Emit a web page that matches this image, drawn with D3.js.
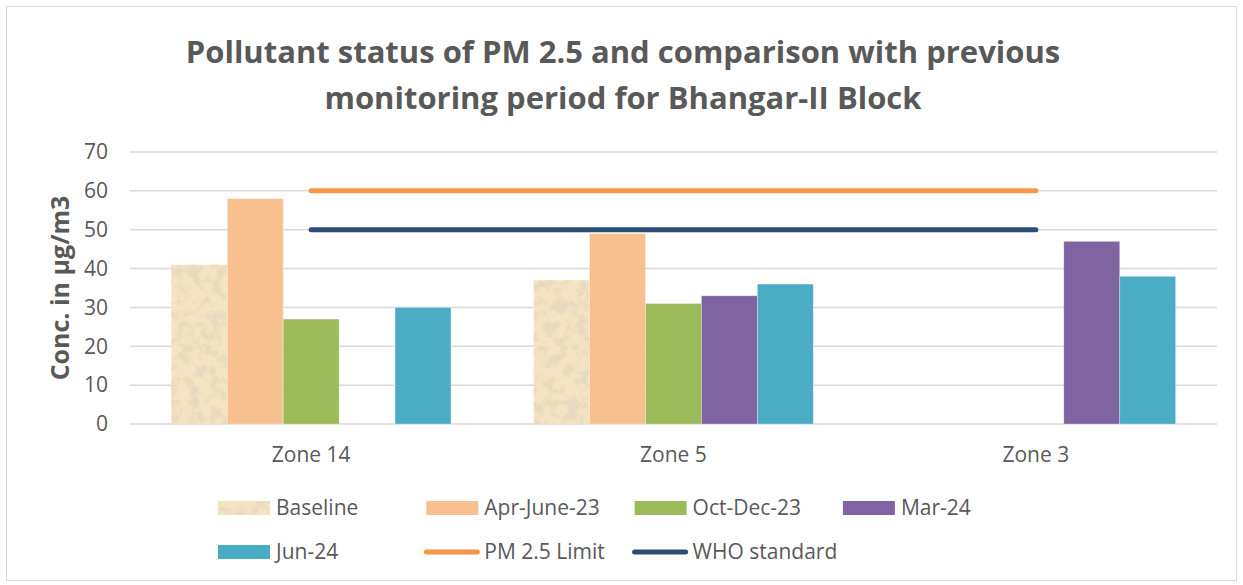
<!DOCTYPE html>
<html>
<head>
<meta charset="utf-8">
<script src="https://cdn.jsdelivr.net/npm/d3@7"></script>
<style>
  body { margin: 0; background: #fff; }
  text { font-family: "Open Sans", Lato, sans-serif; fill: #595959; }
</style>
</head>
<body>
<svg id="chart" width="1243" height="585"></svg>
<script>
// data
var zones = ["Zone 14", "Zone 5", "Zone 3"];
var seriesNames = ["Baseline", "Apr-June-23", "Oct-Dec-23", "Mar-24", "Jun-24"];
var baseline = [41, 37, null];
var aprJune23 = [58, 49, null];
var octDec23 = [27, 31, null];
var mar24 = [null, 33, 47];
var jun24 = [30, 36, 38];
var pmLimit = [60, 60, 60];
var whoStandard = [50, 50, 50];
var yTicks = [0, 10, 20, 30, 40, 50, 60, 70];

var colors = {
  "Baseline": "#f4e4c2",
  "Apr-June-23": "#f9c08f",
  "Oct-Dec-23": "#9bbb59",
  "Mar-24": "#8064a2",
  "Jun-24": "#4bacc6"
};

window.onload = function(){
  var svg = d3.select("#chart");
  var allSeries = [baseline, aprJune23, octDec23, mar24, jun24];

  // papyrus-like texture for baseline bars
  var defs = svg.append("defs");
  var f = defs.append("filter").attr("id", "tex").attr("x", 0).attr("y", 0).attr("width", 1).attr("height", 1);
  f.append("feTurbulence").attr("type", "fractalNoise").attr("baseFrequency", 0.09).attr("numOctaves", 4).attr("seed", 7).attr("result", "n");
  f.append("feColorMatrix").attr("in", "n").attr("type", "matrix")
    .attr("values", "0 0 0 0 0.80  0 0 0 0 0.70  0 0 0 0 0.52  4.5 0 0 0 -2.0")
    .attr("result", "c");
  f.append("feComposite").attr("in", "c").attr("in2", "SourceGraphic").attr("operator", "in").attr("result", "m");
  var mg = f.append("feMerge");
  mg.append("feMergeNode").attr("in", "SourceGraphic");
  mg.append("feMergeNode").attr("in", "m");

  // outer border
  svg.append("rect").attr("x", 6.5).attr("y", 6.5).attr("width", 1230).attr("height", 574)
    .attr("fill", "#fff").attr("stroke", "#d9d9d9");

  // title
  var title = svg.append("text").attr("text-anchor", "middle")
    .style("font-size", "31px").style("font-weight", "bold");
  title.append("tspan").attr("x", 623).attr("y", 63).text("Pollutant status of PM 2.5 and comparison with previous");
  title.append("tspan").attr("x", 623).attr("y", 109).text("monitoring period for Bhangar-II Block");

  var left = 130, right = 1217, top = 152, bottom = 424;

  var x0 = d3.scaleBand().domain(zones).range([left, right]);
  var x1 = d3.scaleBand().domain(seriesNames).range([0, x0.bandwidth()]).paddingOuter(0.74);
  var y = d3.scaleLinear().domain([0, 70]).range([bottom, top]);

  // grid
  svg.append("g").selectAll("line").data(yTicks).enter().append("line")
    .attr("x1", left).attr("x2", right)
    .attr("y1", function(d){ return y(d); }).attr("y2", function(d){ return y(d); })
    .attr("stroke", "#d9d9d9").attr("stroke-width", 1.5);

  var yAxis = d3.axisLeft(y).tickValues(yTicks).tickSize(0).tickPadding(0);
  var ya = svg.append("g").attr("transform", "translate(108,0)").call(yAxis);
  ya.select(".domain").remove();
  ya.selectAll("text").style("font-size", "21px").attr("fill", "#595959")
    .style("font-family", "'Open Sans', Lato, sans-serif");

  svg.append("text").attr("transform", "translate(69,288) rotate(-90)").attr("text-anchor", "middle")
    .style("font-size", "25px").style("font-weight", "bold").text("Conc. in µg/m3");

  // bars
  seriesNames.forEach(function(name, si){
    var vals = allSeries[si];
    svg.append("g").selectAll("rect")
      .data(zones.map(function(z, i){ return {zone: z, v: vals[i]}; }).filter(function(d){ return d.v != null; }))
      .enter().append("rect")
      .attr("x", function(d){ return x0(d.zone) + x1(name); })
      .attr("width", x1.bandwidth())
      .attr("y", function(d){ return y(d.v); })
      .attr("height", function(d){ return y(0) - y(d.v); })
      .attr("fill", colors[name])
      .attr("filter", name === "Baseline" ? "url(#tex)" : null)
      .attr("stroke", name === "Baseline" ? "none" : "#fff").attr("stroke-opacity", 0.35).attr("stroke-width", 0.8);
  });

  // limit lines
  var line = d3.line().x(function(d, i){ return x0(zones[i]) + x0.bandwidth() / 2; }).y(function(d){ return y(d); });
  svg.append("path").datum(pmLimit).attr("d", line).attr("fill", "none")
    .attr("stroke", "#f79646").attr("stroke-width", 5).attr("stroke-linecap", "round");
  svg.append("path").datum(whoStandard).attr("d", line).attr("fill", "none")
    .attr("stroke", "#2c4d75").attr("stroke-width", 5).attr("stroke-linecap", "round");

  // x labels
  svg.append("g").selectAll("text").data(zones).enter().append("text")
    .attr("x", function(d){ return x0(d) + x0.bandwidth() / 2; }).attr("y", 462)
    .attr("text-anchor", "middle").style("font-size", "21px").text(function(d){ return d; });

  // legend
  var legendItems = [
    {name: "Baseline", type: "bar"}, {name: "Apr-June-23", type: "bar"},
    {name: "Oct-Dec-23", type: "bar"}, {name: "Mar-24", type: "bar"},
    {name: "Jun-24", type: "bar"}, {name: "PM 2.5 Limit", type: "line", color: "#f79646"},
    {name: "WHO standard", type: "line", color: "#2c4d75"}
  ];
  var lg = svg.append("g").selectAll("g").data(legendItems).enter().append("g")
    .attr("transform", function(d, i){ return "translate(" + (218 + (i % 4) * 208.3) + "," + (508 + Math.floor(i / 4) * 44) + ")"; });
  lg.filter(function(d){ return d.type === "bar"; }).append("rect")
    .attr("x", 0).attr("y", -7).attr("width", 52).attr("height", 14)
    .attr("fill", function(d){ return colors[d.name]; })
    .attr("filter", function(d){ return d.name === "Baseline" ? "url(#tex)" : null; });
  lg.filter(function(d){ return d.type === "line"; }).append("line")
    .attr("x1", 0).attr("x2", 51).attr("y1", 0).attr("y2", 0)
    .attr("stroke", function(d){ return d.color; }).attr("stroke-width", 5).attr("stroke-linecap", "round");
  lg.append("text").attr("x", 58).attr("y", 7).style("font-size", "21px").text(function(d){ return d.name; });
};
</script>
</body>
</html>
